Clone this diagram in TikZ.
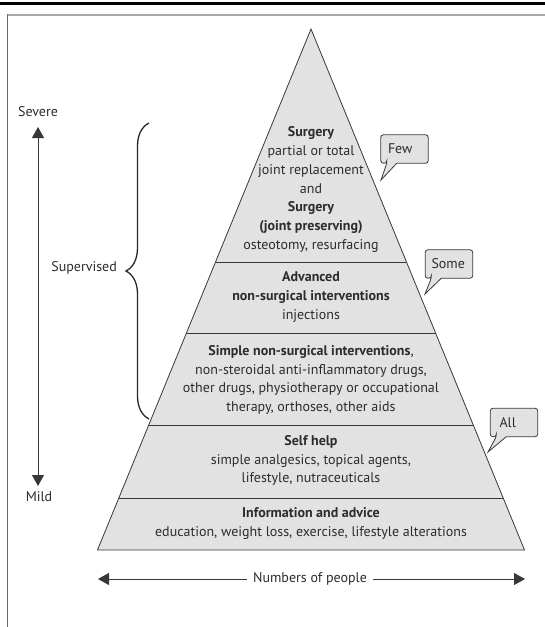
\documentclass[tikz,border=0pt]{standalone}
\usepackage{fontspec}
\setmainfont{PT Sans}
\usetikzlibrary{arrows.meta,decorations.pathreplacing}
\definecolor{pyrfill}{HTML}{E2E2E2}
\definecolor{txt}{HTML}{2C2C2C}
\definecolor{edge}{HTML}{383838}
\definecolor{framegray}{HTML}{A8A8A8}
\definecolor{frameleft}{HTML}{6A6A6A}
\begin{document}
\begin{tikzpicture}[x=1pt,y=-1pt,
  lvl/.style={align=center,text=txt,font=\fontsize{14}{18.8}\selectfont,inner sep=0pt},
  side/.style={text=txt,font=\fontsize{14}{16}\selectfont,inner sep=0pt},
  bubbox/.style={minimum width=47pt,minimum height=28pt,inner sep=0pt},
  bubtxt/.style={text=txt,font=\fontsize{14}{16}\selectfont,inner sep=0pt,anchor=west},
  bubble/.style={draw=edge,fill=pyrfill,line width=0.8pt},
  divider/.style={draw=edge,line width=0.7pt},
  axis/.style={draw=edge,line width=0.8pt,{Triangle[width=12pt,length=11pt]}-{Triangle[width=12pt,length=11pt]}},
  haxis/.style={draw=edge,line width=0.8pt,-{Triangle[width=12pt,length=11pt]}}]
\useasboundingbox (0,0) rectangle (545,627);
% frame
\draw[black,line width=3pt] (0,3.5) -- (545,3.5);
\draw[framegray,line width=1.5pt] (7.5,15) -- (545,15);
\draw[frameleft,line width=1.5pt] (7.5,14.3) -- (7.5,627);
% pyramid
\coordinate (apex) at (311,29);
\coordinate (bl) at (97.5,550);
\coordinate (br) at (524.5,550);
\fill[pyrfill] (apex) -- (bl) -- (br) -- cycle;
\foreach \yy/\nm in {262/a,333/b,425/c,498/d}{
  \path (apex) -- (bl) coordinate[pos={(\yy-29)/521}] (L\nm);
  \path (apex) -- (br) coordinate[pos={(\yy-29)/521}] (R\nm);
  \draw[divider] (L\nm) -- (R\nm);
}
\draw[edge,line width=0.8pt,line join=miter] (apex) -- (bl) -- (br) -- cycle;
% level texts
\node[lvl] (t1) at (311,189.5) {\textbf{Surgery}\\partial or total\\joint replacement\\and\\\textbf{Surgery}\\\textbf{(joint preserving)}\\osteotomy, resurfacing};
\node[lvl] (t2) at (311,297) {\textbf{Advanced}\\\textbf{non-surgical interventions}\\injections};
\node[lvl] (t3) at (311,380) {\textbf{Simple non-surgical interventions},\\non-steroidal anti-inflammatory drugs,\\other drugs, physiotherapy or occupational\\therapy, orthoses, other aids};
\node[lvl] (t4) at (311,460.5) {\textbf{Self help}\\simple analgesics, topical agents,\\lifestyle, nutraceuticals};
\node[lvl] (t5) at (311,523.5) {\textbf{Information and advice}\\education, weight loss, exercise, lifestyle alterations};
% bubbles
\node[bubbox] (few) at (404.5,149) {};
\node[bubbox] (some) at (449,264) {};
\node[bubbox] (all) at (514,422.5) {};
\coordinate (tipfew) at (381,180);
\coordinate (tipsome) at (425,294);
\coordinate (tipall) at (488,452);
\foreach \b in {few,some,all}{
  \draw[bubble] ([xshift=6]\b.south west) [sharp corners] -- (tip\b) -- ([xshift=16]\b.south west) [rounded corners=2.5pt] -- (\b.south east) -- (\b.north east) -- (\b.north west) -- (\b.south west) -- ([xshift=6]\b.south west) -- cycle;
}
\node[bubtxt] (fewt) at ([xshift=7]few.west) {Few};
\node[bubtxt] (somet) at ([xshift=6]some.west) {Some};
\node[bubtxt] (allt) at ([xshift=9]all.west) {All};
% severity axis
\node[side] (severe) at (38,112) {Severe};
\node[side] (mild) at (39,497) {Mild};
\coordinate (sevtip) at (38,127);
\coordinate (mildtip) at (38,486);
\draw[axis] (mildtip) -- (sevtip);
% brace
\coordinate (brbot) at (149,419);
\coordinate (brtop) at (149,123);
\draw[black!85,line width=1.3pt,decorate,decoration={brace,amplitude=23pt,aspect=0.5}] (brbot) -- (brtop);
\node[side,anchor=east] (sup) at (117,268) {Supervised};
% numbers of people
\node[side,inner sep=6pt] (nop) at (310,579) {Numbers of people};
\coordinate (nl) at (98,579);
\coordinate (nr) at (525,579);
\draw[haxis] (nop.west) -- (nl);
\draw[haxis] (nop.east) -- (nr);
\end{tikzpicture}
\end{document}
